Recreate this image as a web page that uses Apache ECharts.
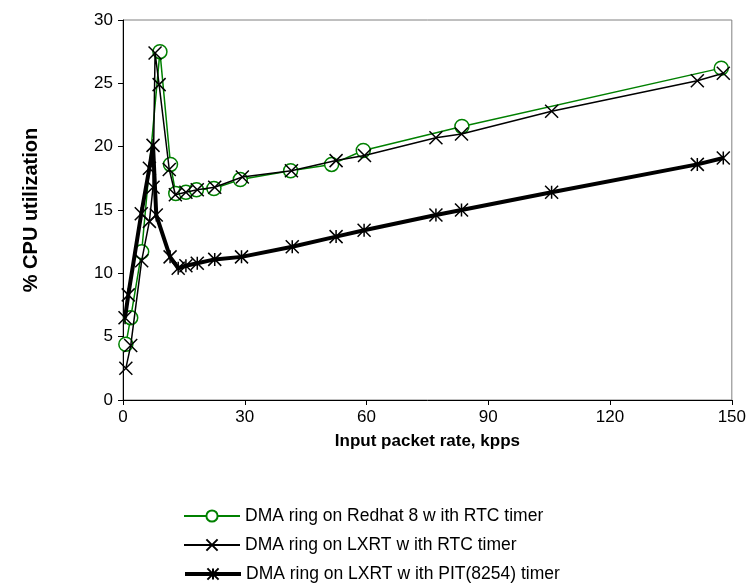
<!DOCTYPE html>
<html>
<head>
<meta charset="utf-8">
<script src="https://cdn.jsdelivr.net/npm/echarts@6/dist/echarts.min.js"></script>
<style>
html,body{margin:0;padding:0;background:#fff;}
#chart{width:749px;height:585px;}
</style>
</head>
<body>
<div id="chart"></div>
<script>
// Series names
var seriesNames = [
  'DMA ring on Redhat 8 w ith RTC timer',
  'DMA ring on LXRT w ith RTC timer',
  'DMA ring on LXRT w ith PIT(8254) timer'
];
// Redhat 8 / RTC (green circles)
var redhatX = [0.7, 1.9, 4.6, 9.1, 11.7, 13.0, 15.5, 18.1, 22.4, 28.9, 41.3, 51.4, 59.2, 83.5, 147.4];
var redhatY = [4.4, 6.5, 11.7, 27.5, 18.6, 16.3, 16.4, 16.6, 16.7, 17.4, 18.1, 18.6, 19.7, 21.6, 26.2];
// LXRT / RTC (thin black crosses)
var lxrtRtcX = [0.7, 1.9, 4.6, 6.5, 7.4, 7.9, 8.9, 11.4, 12.9, 15.5, 18.3, 22.6, 29.4, 41.5, 52.5, 59.5, 77.1, 83.4, 105.6, 141.5, 147.9];
var lxrtRtcY = [2.5, 4.3, 11.0, 14.1, 16.8, 27.4, 24.9, 18.2, 16.2, 16.4, 16.6, 16.8, 17.6, 18.1, 18.9, 19.3, 20.7, 21.0, 22.8, 25.2, 25.8];
// LXRT / PIT (thick black asterisks)
var lxrtPitX = [0.5, 1.3, 4.5, 6.5, 7.4, 8.2, 11.6, 13.6, 15.5, 18.3, 22.6, 29.2, 41.7, 52.5, 59.4, 77.1, 83.4, 105.6, 141.5, 147.9];
var lxrtPitY = [6.5, 8.3, 14.7, 18.3, 20.1, 14.6, 11.3, 10.4, 10.6, 10.8, 11.1, 11.3, 12.1, 12.9, 13.4, 14.6, 15.0, 16.4, 18.6, 19.1];
// Axis ticks
var xTicks = [0, 30, 60, 90, 120, 150];
var yTicks = [0, 5, 10, 15, 20, 25, 30];

function pairs(xs, ys){ return xs.map(function(x,i){ return [x, ys[i]]; }); }

var crossPath = 'path://M0,0L10,10M10,0L0,10';
var starPath = 'path://M0,0L10,10M10,0L0,10M5,0L5,10';
var font = '"Liberation Sans", Arial, sans-serif';

function legendFor(i, top, lw){
  var lg = {
    orient:'horizontal', left:178, top:top, itemWidth:56, itemHeight:14, itemGap:0,
    textStyle:{fontSize:17.5, color:'#000', fontFamily:font},
    data:[seriesNames[i]]
  };
  if (lw) { lg.lineStyle = {width:lw}; }
  return lg;
}

var chart = echarts.init(document.getElementById('chart'), null, {renderer:'canvas'});
chart.setOption({
  animation:false,
  backgroundColor:'#fff',
  textStyle:{fontFamily:font},
  grid:{left:123, right:16, top:20, bottom:185, show:true, borderColor:'#808080', borderWidth:1, backgroundColor:'transparent'},
  xAxis:{
    type:'value', min:xTicks[0], max:xTicks[xTicks.length-1], interval:xTicks[1]-xTicks[0],
    name:'Input packet rate, kpps', nameLocation:'middle', nameGap:33,
    nameTextStyle:{fontSize:17, fontWeight:'bold', color:'#000', fontFamily:font},
    axisLine:{lineStyle:{color:'#000', width:1}},
    axisTick:{show:true, inside:false, length:5, lineStyle:{color:'#000'}},
    axisLabel:{fontSize:17, color:'#000', margin:9, fontFamily:font},
    splitLine:{show:false}
  },
  yAxis:{
    type:'value', min:yTicks[0], max:yTicks[yTicks.length-1], interval:yTicks[1]-yTicks[0],
    name:'% CPU utilization', nameLocation:'middle', nameGap:82, nameRotate:90,
    nameTextStyle:{fontSize:20, fontWeight:'bold', color:'#000', fontFamily:font},
    axisLine:{show:true, lineStyle:{color:'#000', width:1}},
    axisTick:{show:true, inside:false, length:5, lineStyle:{color:'#000'}},
    axisLabel:{fontSize:17, color:'#000', margin:10, fontFamily:font},
    splitLine:{show:false}
  },
  legend:[legendFor(0, 502), legendFor(1, 531), legendFor(2, 560, 4)],
  series:[
    {
      name:seriesNames[0], type:'line', data:pairs(redhatX, redhatY),
      symbol:'circle', symbolSize:14, showAllSymbol:true,
      lineStyle:{color:'#008000', width:1.5},
      itemStyle:{color:'#ffffff', borderColor:'#008000', borderWidth:1.5},
      z:2
    },
    {
      name:seriesNames[1], type:'line', data:pairs(lxrtRtcX, lxrtRtcY),
      symbol:crossPath, symbolSize:13, showAllSymbol:true,
      lineStyle:{color:'#000', width:1.5},
      itemStyle:{color:'#000', borderColor:'#000', borderWidth:1.5},
      z:3
    },
    {
      name:seriesNames[2], type:'line', data:pairs(lxrtPitX, lxrtPitY),
      symbol:starPath, symbolSize:13, showAllSymbol:true,
      lineStyle:{color:'#000', width:4},
      itemStyle:{color:'#000', borderColor:'#000', borderWidth:1.5},
      z:4
    }
  ]
});
</script>
</body>
</html>
